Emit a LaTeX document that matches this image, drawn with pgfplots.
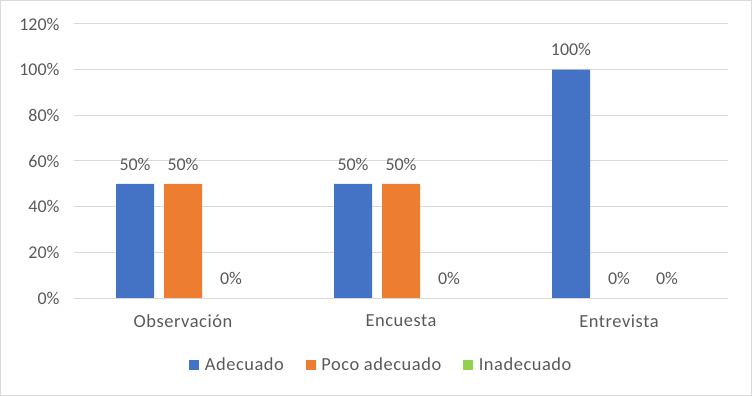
\documentclass[border=0pt]{standalone}
\usepackage{pgfplots}
\pgfplotsset{compat=1.18}
\usepackage{fontspec}
\setmainfont{Carlito}
\definecolor{cblue}{HTML}{4472C4}
\definecolor{corange}{HTML}{ED7D31}
\definecolor{cgreen}{HTML}{92D050}
\definecolor{ctext}{HTML}{595959}
\definecolor{cgrid}{HTML}{D9D9D9}
\begin{document}
\begin{tikzpicture}
\useasboundingbox (0,0) rectangle (752bp,396bp);
\draw[cgrid, line width=1bp] (0.5bp,0.5bp) rectangle (751.5bp,395.5bp);
\begin{axis}[
  at={(74bp,98bp)}, anchor=south west,
  scale only axis, width=654bp, height=274bp,
  ybar=10bp, bar width=38bp,
  xmin=-0.5, xmax=2.5, ymin=0, ymax=120,
  xtick={0,1,2}, xticklabels={Observación,Encuesta,Entrevista},
  ytick={0,20,...,120},
  yticklabel={\pgfmathprintnumber[assume math mode=true]{\tick}\%},
  axis line style={draw=none},
  ymajorgrids, grid style={cgrid, line width=1bp},
  major tick length=0pt,
  tick label style={font=\fontsize{18}{21}\selectfont, text=ctext},
  xticklabel style={yshift=-13bp, font=\fontsize{18.5}{21}\selectfont\addfontfeatures{LetterSpace=3}},
  yticklabel style={xshift=-11bp},
  nodes near coords={\pgfmathprintnumber[assume math mode=true]{\pgfplotspointmeta}\%},
  every node near coord/.append style={font=\fontsize{18}{21}\selectfont, text=ctext, yshift=10bp},
  legend style={at={(0.47,-0.245)}, anchor=center, draw=none, fill=none,
    legend columns=3, font=\fontsize{18.5}{21}\selectfont\addfontfeatures{LetterSpace=3}, text=ctext,
    /tikz/every even column/.append style={column sep=20bp},
    /tikz/every odd column/.append style={column sep=3.5bp}},
  legend image code/.code={\fill[#1] (0bp,-5bp) rectangle (10bp,5bp);},
]
\addplot[fill=cblue, draw=none] coordinates {(0,50) (1,50) (2,100)};
\addplot[fill=corange, draw=none] coordinates {(0,50) (1,50) (2,0)};
\addplot[fill=cgreen, draw=none] coordinates {(0,0) (1,0) (2,0)};
\legend{Adecuado, Poco adecuado, Inadecuado}
\end{axis}
\end{tikzpicture}
\end{document}
